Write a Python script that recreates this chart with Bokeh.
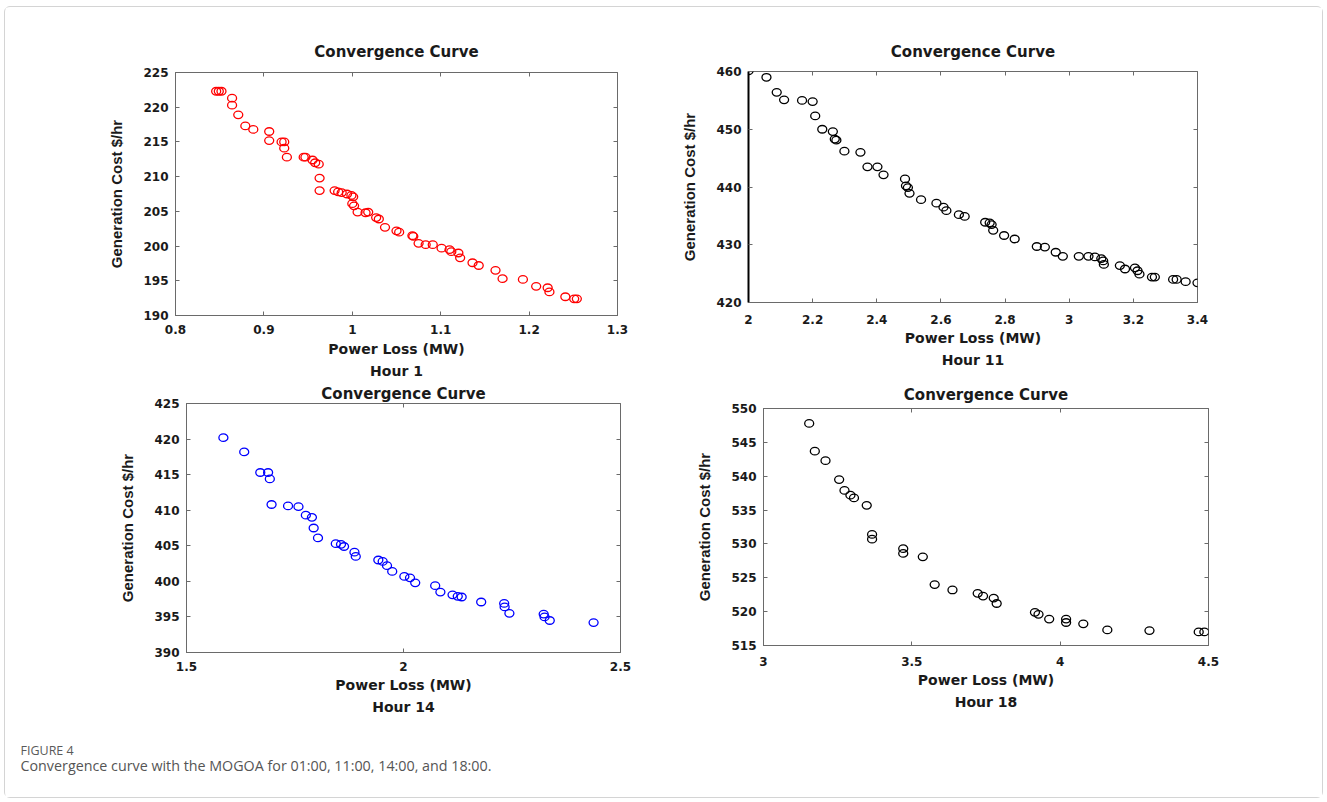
from bokeh.plotting import figure
from bokeh.models import Range1d, FixedTicker, LinearAxis, Label
from bokeh.layouts import row, column
from bokeh.embed import file_html
from bokeh.resources import INLINE

# ---------------- data ----------------
h1_loss = [0.846, 0.849, 0.852, 0.864, 0.864, 0.871, 0.879, 0.888, 0.906, 0.906, 0.920, 0.923, 0.923, 0.926,
           0.945, 0.947, 0.955, 0.958, 0.962, 0.963, 0.963, 0.980, 0.984, 0.988, 0.994, 0.999, 1.001, 1.000,
           1.002, 1.006, 1.015, 1.018, 1.027, 1.030, 1.037, 1.050, 1.053, 1.068, 1.069, 1.075, 1.083, 1.091,
           1.101, 1.110, 1.112, 1.120, 1.122, 1.136, 1.143, 1.162, 1.170, 1.193, 1.208, 1.221, 1.223, 1.241,
           1.251, 1.254]
h1_cost = [222.3, 222.3, 222.3, 221.3, 220.3, 218.9, 217.3, 216.8, 216.5, 215.2, 215.0, 215.0, 214.1, 212.8,
           212.8, 212.8, 212.4, 212.0, 211.8, 209.8, 208.0, 208.0, 207.8, 207.7, 207.5, 207.3, 207.1, 206.1,
           205.8, 204.9, 204.8, 204.9, 204.1, 203.9, 202.7, 202.2, 202.0, 201.5, 201.4, 200.4, 200.2, 200.2,
           199.7, 199.5, 199.2, 199.0, 198.3, 197.6, 197.2, 196.5, 195.3, 195.2, 194.2, 194.0, 193.4, 192.7,
           192.4, 192.4]

h11_loss = [2.000, 2.056, 2.088, 2.111, 2.167, 2.200, 2.208, 2.230, 2.263, 2.269, 2.274, 2.299, 2.349, 2.371,
            2.402, 2.421, 2.488, 2.491, 2.497, 2.502, 2.538, 2.586, 2.608, 2.617, 2.656, 2.674, 2.738, 2.752,
            2.758, 2.763, 2.797, 2.830, 2.899, 2.924, 2.958, 2.980, 3.030, 3.060, 3.080, 3.100, 3.106, 3.108,
            3.158, 3.174, 3.205, 3.213, 3.219, 3.258, 3.267, 3.324, 3.335, 3.363, 3.400]
h11_cost = [460.1, 459.0, 456.4, 455.1, 455.0, 454.8, 452.3, 450.0, 449.6, 448.3, 448.1, 446.2, 446.0, 443.5,
            443.5, 442.1, 441.4, 440.2, 439.9, 438.9, 437.8, 437.2, 436.5, 435.9, 435.2, 434.9, 433.9, 433.8,
            433.5, 432.5, 431.6, 431.0, 429.7, 429.6, 428.7, 428.0, 428.0, 428.0, 427.9, 427.6, 427.2, 426.6,
            426.4, 425.8, 426.0, 425.5, 424.9, 424.4, 424.4, 424.0, 424.0, 423.6, 423.4]

h14_loss = [1.585, 1.633, 1.670, 1.688, 1.692, 1.696, 1.734, 1.758, 1.775, 1.789, 1.793, 1.803, 1.844, 1.856,
            1.863, 1.887, 1.890, 1.942, 1.952, 1.962, 1.974, 2.002, 2.015, 2.027, 2.073, 2.085, 2.113, 2.125,
            2.134, 2.179, 2.232, 2.233, 2.244, 2.323, 2.325, 2.337, 2.438]
h14_cost = [420.2, 418.2, 415.3, 415.3, 414.4, 410.8, 410.6, 410.5, 409.3, 409.0, 407.5, 406.1, 405.3, 405.2,
            404.9, 404.1, 403.5, 403.0, 402.8, 402.2, 401.4, 400.7, 400.5, 399.8, 399.4, 398.5, 398.1, 397.9,
            397.8, 397.1, 396.9, 396.4, 395.5, 395.4, 395.0, 394.5, 394.2]

h18_loss = [3.154, 3.173, 3.209, 3.255, 3.273, 3.293, 3.305, 3.348, 3.366, 3.366, 3.471, 3.471, 3.537, 3.577,
            3.637, 3.722, 3.740, 3.776, 3.786, 3.915, 3.927, 3.963, 4.020, 4.020, 4.078, 4.159, 4.301, 4.467,
            4.486]
h18_cost = [547.8, 543.7, 542.3, 539.5, 537.9, 537.2, 536.8, 535.7, 531.4, 530.7, 529.3, 528.6, 528.1, 524.0,
            523.2, 522.7, 522.3, 522.0, 521.2, 519.9, 519.6, 518.9, 518.9, 518.4, 518.2, 517.3, 517.2, 517.0,
            517.0]

h1_xticks = [0.8, 0.9, 1.0, 1.1, 1.2, 1.3]
h1_xlabels = ["0.8", "0.9", "1", "1.1", "1.2", "1.3"]
h1_yticks = [190, 195, 200, 205, 210, 215, 220, 225]

h11_xticks = [2.0, 2.2, 2.4, 2.6, 2.8, 3.0, 3.2, 3.4]
h11_xlabels = ["2", "2.2", "2.4", "2.6", "2.8", "3", "3.2", "3.4"]
h11_yticks = [420, 430, 440, 450, 460]

h14_xticks = [1.5, 2.0, 2.5]
h14_xlabels = ["1.5", "2", "2.5"]
h14_yticks = [390, 395, 400, 405, 410, 415, 420, 425]

h18_xticks = [3.0, 3.5, 4.0, 4.5]
h18_xlabels = ["3", "3.5", "4", "4.5"]
h18_yticks = [515, 520, 525, 530, 535, 540, 545, 550]

TITLE = "Convergence Curve"
XLABEL = "Power Loss (MW)"
YLABEL = "Generation Cost $/hr"
FIG_LABEL = "FIGURE 4"
CAPTION = "Convergence curve with the MOGOA for 01:00, 11:00, 14:00, and 18:00."

BOX = "#6a6a6a"
TXT = "#1a1a1a"
FONT = "DejaVu Sans"


def panel(xs, ys, color, xr, yr, xticks, xlabels, yticks, hour, w, h, bl, br, bt, bb,
          title_so, tick_so, xlab_so, thick_left=False, transparent=False):
    p = figure(width=w, height=h, x_range=Range1d(*xr), y_range=Range1d(*yr),
               output_backend="svg", toolbar_location=None, frame_align=False,
               min_border_left=bl, min_border_right=br, min_border_top=bt, min_border_bottom=bb,
               background_fill_color="white",
               border_fill_color=None if transparent else "white")
    p.grid.visible = False
    p.outline_line_color = BOX
    p.outline_line_width = 1

    xa = p.xaxis[0]
    xa.ticker = FixedTicker(ticks=xticks)
    xa.major_label_overrides = {t: l for t, l in zip(xticks, xlabels)}
    ya = p.yaxis[0]
    ya.ticker = FixedTicker(ticks=yticks)
    ya.major_label_overrides = {t: str(t) for t in yticks}

    for ax in (xa, ya):
        ax.major_tick_in = 4
        ax.major_tick_out = 0
        ax.minor_tick_line_color = None
        ax.major_tick_line_color = BOX
        ax.axis_line_color = BOX
        ax.major_label_text_font = FONT
        ax.major_label_text_font_size = "12px"
        ax.major_label_text_font_style = "bold"
        ax.major_label_text_color = TXT
        ax.axis_label_text_color = TXT
        ax.axis_label_text_font_style = "bold"
    # x label with the hour underneath (two lines)
    xa.axis_label = XLABEL + "\n" + hour
    xa.axis_label_text_font = FONT
    xa.axis_label_text_font_size = "14px"
    xa.axis_label_text_line_height = 1.43
    xa.major_label_standoff = tick_so
    xa.axis_label_standoff = xlab_so
    ya.axis_label = YLABEL
    ya.axis_label_text_font = "Liberation Sans"
    ya.axis_label_text_font_size = "15px"
    ya.major_label_standoff = 7
    ya.axis_label_standoff = 15
    if thick_left:
        ya.axis_line_color = "black"
        ya.axis_line_width = 2

    # box ticks on top (carrying the title) and right (no labels)
    ta = LinearAxis(ticker=FixedTicker(ticks=xticks), axis_line_color=None,
                    major_tick_in=4, major_tick_out=0, minor_tick_line_color=None,
                    major_tick_line_color=BOX, major_label_text_color=None,
                    major_label_text_font_size="1px", major_label_standoff=0,
                    axis_label=TITLE, axis_label_text_font=FONT, axis_label_text_font_size="15px",
                    axis_label_text_font_style="bold", axis_label_text_color=TXT,
                    axis_label_standoff=title_so)
    ra = LinearAxis(ticker=FixedTicker(ticks=yticks), axis_line_color=None,
                    major_tick_in=4, major_tick_out=0, minor_tick_line_color=None,
                    major_tick_line_color=BOX, major_label_text_color=None,
                    major_label_text_font_size="1px", major_label_standoff=0)
    p.add_layout(ta, "above")
    p.add_layout(ra, "right")

    p.ellipse(x=xs, y=ys, width=9, height=7.5, width_units="screen", height_units="screen",
              fill_color=None, line_color=color, line_width=1.3)
    return p


# content origin is at page (5, 7) because of the outer bordered box
p1 = panel(h1_loss, h1_cost, "#ff0000", (0.8, 1.3), (190, 225), h1_xticks, h1_xlabels, h1_yticks,
           "Hour 1", 658, 384, 170, 46, 65, 76, title_so=12, tick_so=9, xlab_so=4)
p2 = panel(h11_loss, h11_cost, "#000000", (2.0, 3.4), (420, 460), h11_xticks, h11_xlabels, h11_yticks,
           "Hour 11", 659, 384, 85, 125, 64, 89, title_so=11, tick_so=12, xlab_so=3, thick_left=True)
p3 = panel(h14_loss, h14_cost, "#0000ff", (1.5, 2.5), (390, 425), h14_xticks, h14_xlabels, h14_yticks,
           "Hour 14", 658, 351, 181, 43, 22, 80, title_so=1, tick_so=9, xlab_so=3, transparent=True)
p4 = panel(h18_loss, h18_cost, "#000000", (3.0, 4.5), (515, 550), h18_xticks, h18_xlabels, h18_yticks,
           "Hour 18", 659, 351, 100, 114, 27, 87, title_so=5, tick_so=11, xlab_so=3, transparent=True)

pc = figure(width=1317, height=65, x_range=Range1d(0, 1317), y_range=Range1d(65, 0),
            output_backend="svg", toolbar_location=None, min_border=0,
            background_fill_color="white", border_fill_color="white")
pc.axis.visible = False
pc.grid.visible = False
pc.outline_line_color = None
pc.add_layout(Label(x=15, y=18, text=FIG_LABEL, text_font="Open Sans", text_font_size="12.5px",
                    text_color="#5a5a5a", text_baseline="middle"))
pc.add_layout(Label(x=15, y=33, text=CAPTION, text_font="Open Sans", text_font_size="14.3px",
                    text_color="#555555", text_baseline="middle"))

top_row = row(p1, p2)
bottom_row = row(p3, p4, margin=(-10, 0, 0, 0))
layout = column(top_row, bottom_row, pc,
                styles={"border": "1px solid #d4d4d4", "border-radius": "6px",
                        "margin": "6px 0px 0px 4px"})

open("out.html", "w").write(file_html(layout, INLINE))
